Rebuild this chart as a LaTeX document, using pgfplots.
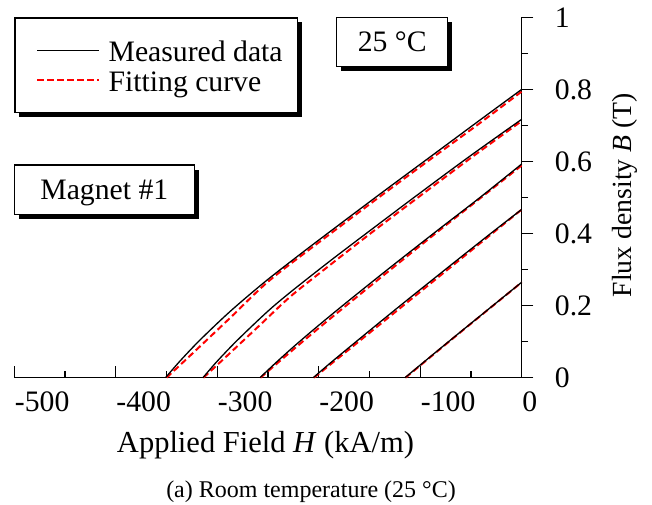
\documentclass[border=0pt]{standalone}
\usepackage{fontspec}
\setmainfont{Liberation Serif}
\usepackage{pgfplots}
\pgfplotsset{compat=1.18}
\usetikzlibrary{shadows,calc}
\newcommand{\bigf}{\fontsize{29.7}{35}\selectfont}
\begin{document}
\begin{tikzpicture}
\begin{axis}[
  name=ax,
  scale only axis, width=507.4pt, height=360.4pt,
  xmin=-500, xmax=0, ymin=0, ymax=1,
  axis x line*=bottom, axis y line*=right,
  axis line style={line width=1.3pt},
  xtick={-500,-400,-300,-200,-100,0},
  ytick={0,0.2,0.4,0.6,0.8,1},
  minor x tick num=1, minor y tick num=1,
  tick align=inside,
  major tick length=11.7pt, minor tick length=6.5pt,
  every tick/.style={black, line width=1.3pt},
  major y tick style={xshift=11.7pt},
  minor y tick style={xshift=6.5pt},
  /pgf/number format/assume math mode=true,
  tick label style={font=\bigf},
  xticklabel style={anchor=north west, inner sep=0pt, xshift=0.5pt, yshift=-14pt},
  yticklabel style={anchor=west, inner sep=0pt, xshift=33pt},
  legend cell align=left,
  legend style={at={(axis description cs:0,1)}, anchor=north west, draw=black, line width=1.3pt, fill=white,
    inner xsep=15pt, inner ysep=14.8pt, font=\bigf, column sep=8.3pt, row sep=3.7pt,
    nodes={inner sep=0pt, text depth=6.5pt},
    drop shadow={shadow xshift=4.5pt, shadow yshift=-4.5pt, fill=black, opacity=1}},
  clip=false,
]
\addlegendimage{legend image code/.code={%
  \pgfpathmoveto{\pgfpointorigin}\pgfpathlineto{\pgfpoint{7.4pt}{0pt}}\pgfusepath{}%
  \pgfsetlinewidth{1.3pt}\pgfsetstrokecolor{black}\pgfsetdash{}{0pt}%
  \pgfpathmoveto{\pgfpoint{7.4pt}{0pt}}\pgfpathlineto{\pgfpoint{69.4pt}{0pt}}\pgfusepath{stroke}}}
\addlegendentry{\rule{0pt}{28.9pt}Measured data}
\addlegendimage{legend image code/.code={%
  \pgfpathmoveto{\pgfpoint{0pt}{4.5pt}}\pgfpathlineto{\pgfpoint{7.4pt}{4.5pt}}\pgfusepath{}%
  \pgfsetlinewidth{2pt}\pgfsetstrokecolor{red}\pgfsetdash{{6.5pt}{3.5pt}}{0pt}%
  \pgfpathmoveto{\pgfpoint{7.4pt}{4.5pt}}\pgfpathlineto{\pgfpoint{69.4pt}{4.5pt}}\pgfusepath{stroke}}}
\addlegendentry{Fitting curve}

% fitting curves (red dashed)
\addplot[forget plot, red, line width=2pt, dash pattern=on 6.5pt off 3.5pt, smooth] coordinates {(-350.0,0) (-327.8,0.0583) (-287.4,0.1657) (-248.0,0.2711) (-188.9,0.3987) (-139.6,0.5028) (-90.3,0.6054) (-41.1,0.7067) (0,0.794)};
\addplot[forget plot, red, line width=2pt, dash pattern=on 6.5pt off 3.5pt, smooth] coordinates {(-313.6,0) (-287.4,0.0685) (-257.9,0.1462) (-227.3,0.2267) (-188.9,0.3127) (-146.5,0.4057) (-100.2,0.5042) (-50.9,0.6082) (0,0.7123)};
\addplot[forget plot, red, line width=2pt, dash pattern=on 6.5pt off 3.5pt, smooth] coordinates {(-257.4,0) (-228.3,0.0705) (-198.8,0.1404) (-169.2,0.2087) (-129.8,0.2986) (-83.8,0.4029) (-41.1,0.4975) (0,0.589)};
\addplot[forget plot, red, line width=2pt, dash pattern=on 6.5pt off 3.5pt, smooth] coordinates {(-204.7,0) (-159.3,0.1032) (-100.2,0.2378) (0,0.4667)};
\addplot[forget plot, red, line width=2pt, dash pattern=on 6.5pt off 3.5pt, smooth] coordinates {(-114.5,0) (-60.8,0.1251) (0,0.2646)};

% measured data (black)
\addplot[forget plot, black, line width=1.3pt, smooth] coordinates {(-351.0,0) (-336.7,0.0463) (-317.0,0.1046) (-287.4,0.1837) (-252.9,0.2664) (-218.5,0.3421) (-188.9,0.4054) (-139.6,0.5097) (-90.3,0.6124) (-41.1,0.715) (0,0.800)};
\addplot[forget plot, black, line width=1.3pt, smooth] coordinates {(-314.1,0) (-300.3,0.0450) (-280.5,0.1032) (-251.0,0.1823) (-228.3,0.2364) (-188.9,0.3238) (-146.5,0.4145) (-100.2,0.5125) (-50.9,0.6151) (0,0.717)};
\addplot[forget plot, black, line width=1.3pt, smooth] coordinates {(-257.9,0) (-243.1,0.0394) (-223.4,0.0893) (-198.8,0.1483) (-169.2,0.2166) (-129.8,0.3054) (-83.8,0.4070) (-41.1,0.5000) (0,0.593)};
\addplot[forget plot, black, line width=1.3pt, smooth] coordinates {(-205.4,0) (-188.9,0.0400) (-159.3,0.1090) (-119.9,0.1995) (-70.7,0.3105) (-31.2,0.3987) (0,0.467)};
\addplot[forget plot, black, line width=1.3pt, smooth] coordinates {(-115.0,0) (-100.2,0.0347) (-60.8,0.126) (0,0.265)};

\node[draw=black, line width=1.3pt, fill=white, font=\bigf, minimum width=111pt, minimum height=49.4pt, inner sep=0pt,
  drop shadow={shadow xshift=4.5pt, shadow yshift=-4.5pt, fill=black, opacity=1}]
  at (axis description cs:0.7448,0.9315) {25 °C};
\node[draw=black, line width=1.3pt, fill=white, font=\bigf, minimum width=180pt, minimum height=49.3pt, inner sep=0pt, text depth=0pt,
  drop shadow={shadow xshift=4.5pt, shadow yshift=-4.5pt, fill=black, opacity=1}]
  at (axis description cs:0.1774,0.5216) {Magnet \#1};
\end{axis}
\node[font=\fontsize{30.5}{36}\selectfont, anchor=base] at ($(ax.south west)+(251.2pt,-74.3pt)$) {Applied Field \textit{H} (kA/m)};
\node[font=\fontsize{27.7}{33}\selectfont, rotate=90] at ($(ax.south west)+(610.7pt,182.5pt)$) {Flux density \textit{B} (T)};
\node[font=\fontsize{24}{28}\selectfont, anchor=base] at ($(ax.south west)+(296.7pt,-119.3pt)$) {(a) Room temperature (25 °C)};
\pgfresetboundingbox
\path ($(ax.south west)+(-14.3pt,-126.3pt)$) rectangle ($(ax.south west)+(637.7pt,377.7pt)$);
\end{tikzpicture}
\end{document}
